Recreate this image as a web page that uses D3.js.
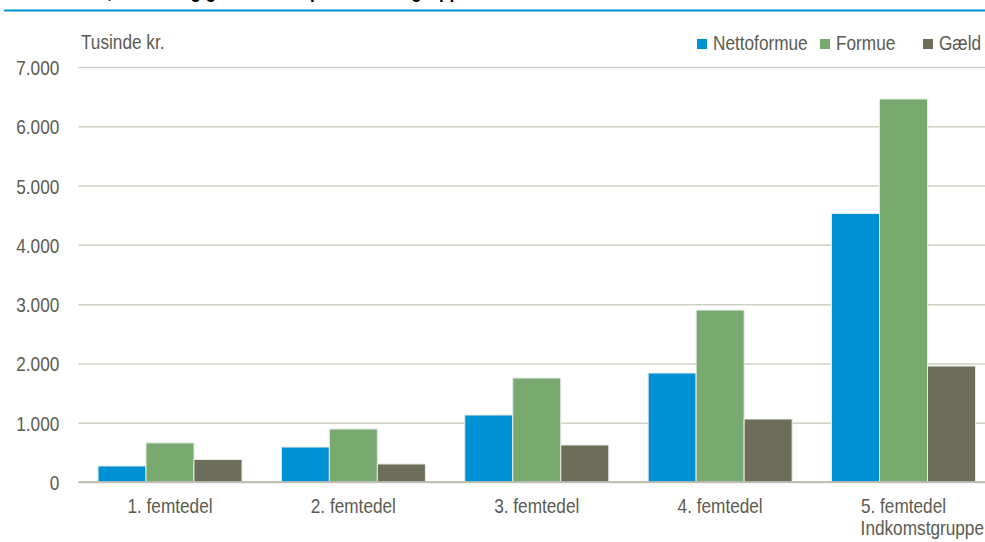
<!DOCTYPE html>
<html>
<head>
<meta charset="utf-8">
<script src="https://cdn.jsdelivr.net/npm/d3@7"></script>
<style>
  html, body { margin: 0; padding: 0; background: #fff; }
  svg { display: block; font-family: "Liberation Sans", Arial, sans-serif; }
</style>
</head>
<body>
<div id="chart"></div>
<script>
// data (tusinde kr.)
const categories = ['1. femtedel', '2. femtedel', '3. femtedel', '4. femtedel', '5. femtedel'];
const series = ['Nettoformue', 'Formue', 'Gæld'];
const nettoformue = [270, 590, 1130, 1838, 4530];
const formue = [660, 894, 1754, 2900, 6460];
const gaeld = [380, 304, 624, 1062, 1956];
const y_ticks = [0, 1000, 2000, 3000, 4000, 5000, 6000, 7000];
const colors = ['#0091d5', '#78aa6f', '#6e6d5a'];

const text_color = '#5b5b50';
const font_size = '21px';
const squeeze = 0.82;   // reference uses a narrow face, fake it with a horizontal scale
const svg_width = 985, svg_height = 542;
// the plot runs a little past the right edge of the picture
const margin = {left: 78.3, top: 67, bottom: 60};
const plot_width = 916.9;
const plot_height = svg_height - margin.top - margin.bottom;

const rows = categories.map((c, i) => ({
  category: c,
  values: [nettoformue[i], formue[i], gaeld[i]]
}));

// put a text at (x, y) in its parent's space, narrowed
function narrow(sel, x, y) {
  sel.attr('x', (x || 0) / squeeze)
    .attr('y', y || 0)
    .attr('transform', `scale(${squeeze},1)`);
  return sel;
}

const svg = d3.select('#chart').append('svg')
  .attr('width', svg_width)
  .attr('height', svg_height);

// cut-off title and blue rule at the top
svg.append('text')
  .call(narrow, 5, -2)
  .style('font-size', '21px')
  .style('font-weight', 'bold')
  .style('fill', '#000')
  .text('Nettoformue, formue og gæld fordelt på indkomstgruppe');

svg.append('line')
  .attr('x1', 4).attr('x2', svg_width)
  .attr('y1', 10.5).attr('y2', 10.5)
  .attr('stroke', '#0091d5')
  .attr('stroke-width', 2);

const g = svg.append('g')
  .attr('transform', `translate(${margin.left},${margin.top})`);

const x0 = d3.scaleBand().domain(categories).range([0, plot_width]).padding(0);
const x1 = d3.scaleBand().domain(series).range([19.7, x0.bandwidth() - 19.7]).padding(0);
const y = d3.scaleLinear().domain([0, 7000]).range([plot_height, 0]);

const fmt = d3.formatLocale({decimal: ',', thousands: '.', grouping: [3], currency: ['', ' kr.']}).format(',d');

// gridlines + y labels
const y_axis = d3.axisLeft(y)
  .tickValues(y_ticks)
  .tickSize(-plot_width)
  .tickPadding(19)
  .tickFormat(fmt);

const ya = g.append('g')
  .attr('class', 'y axis')
  .call(y_axis);
ya.select('.domain').remove();
ya.selectAll('line').attr('stroke', '#d0d0c6').attr('stroke-width', 1.5);
ya.selectAll('text')
  .attr('x', -19 / squeeze)
  .attr('transform', `scale(${squeeze},1)`)
  .attr('dy', '0.36em')
  .style('font-size', font_size)
  .style('fill', text_color);

// bars
g.append('g').selectAll('g')
  .data(rows)
  .enter()
  .append('g')
  .attr('transform', d => `translate(${x0(d.category)},0)`)
  .selectAll('rect')
  .data(d => d.values.map((v, i) => ({key: series[i], value: v, i})))
  .enter()
  .append('rect')
  .attr('x', d => x1(d.key))
  .attr('y', d => y(d.value))
  .attr('width', x1.bandwidth())
  .attr('height', d => plot_height - y(d.value))
  .attr('fill', d => colors[d.i])
  .attr('stroke', '#e4ece6')
  .attr('stroke-width', 1);

// baseline
g.append('line')
  .attr('x1', 0).attr('x2', plot_width)
  .attr('y1', y(0)).attr('y2', y(0))
  .attr('stroke', '#b4b4a8')
  .attr('stroke-width', 1.5);

// x labels
const x_axis = d3.axisBottom(x0).tickSize(0).tickPadding(16);
const xa = g.append('g')
  .attr('transform', `translate(0,${plot_height})`)
  .call(x_axis);
xa.select('.domain').remove();
xa.selectAll('text')
  .attr('transform', `scale(${squeeze},1)`)
  .style('font-size', font_size)
  .style('fill', text_color);

// axis titles
svg.append('text')
  .call(narrow, 81, 49)
  .style('font-size', font_size)
  .style('fill', text_color)
  .text('Tusinde kr.');

svg.append('text')
  .call(narrow, 984, 535)
  .attr('text-anchor', 'end')
  .style('font-size', font_size)
  .style('fill', text_color)
  .text('Indkomstgruppe');

// legend
const legend_x = [697, 820, 923];
const legend = svg.append('g').selectAll('g')
  .data(series)
  .enter()
  .append('g')
  .attr('transform', (d, i) => `translate(${legend_x[i]},39)`);
legend.append('rect')
  .attr('width', 10).attr('height', 10)
  .attr('fill', (d, i) => colors[i]);
legend.append('text')
  .call(narrow, 16, 11)
  .style('font-size', font_size)
  .style('fill', text_color)
  .text(d => d);
</script>
</body>
</html>
